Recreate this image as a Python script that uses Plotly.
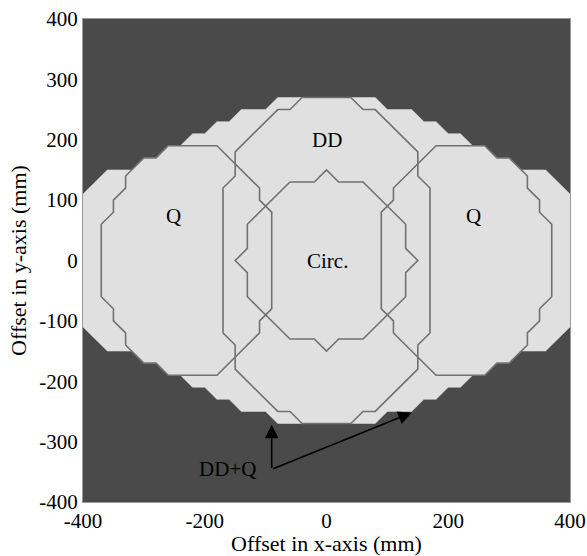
import plotly.graph_objects as go

# Combined DD+Q coverage region (light area)
ddq_x = [-80, 80, 100, 140, 160, 180, 200, 220, 240, 260, 280, 300, 320, 360, 400,
         400, 360, 320, 300, 280, 260, 240, 220, 200, 180, 160, 140, 100, 80,
         -80, -100, -140, -160, -180, -200, -220, -240, -260, -280, -300, -320, -360, -400,
         -400, -360, -320, -300, -280, -260, -240, -220, -200, -180, -160, -140, -100, -80]
ddq_y = [270, 270, 250, 250, 230, 230, 210, 210, 190, 190, 170, 170, 150, 150, 110,
         -110, -150, -150, -170, -170, -190, -190, -210, -210, -230, -230, -250, -250, -270,
         -270, -250, -250, -230, -230, -210, -210, -190, -190, -170, -170, -150, -150, -110,
         110, 150, 150, 170, 170, 190, 190, 210, 210, 230, 230, 250, 250, 270]

# DD pad region outline
dd_x = [-40, 40, 60, 80, 150, 150, 170, 170, 150, 150, 80, 60, 40,
        -40, -60, -80, -150, -150, -170, -170, -150, -150, -80, -60, -40]
dd_y = [270, 270, 250, 250, 180, 140, 120, -120, -140, -180, -250, -250, -270,
        -270, -250, -250, -180, -140, -120, 120, 140, 180, 250, 250, 270]

# Left Q region outline
ql_x = [-260, -180, -110, -110, -90, -90, -110, -110, -180, -260, -280, -300, -320, -330,
        -330, -350, -350, -370, -370, -350, -350, -330, -330, -320, -300, -280, -260]
ql_y = [190, 190, 120, 100, 80, -80, -100, -120, -190, -190, -170, -170, -150, -140,
        -120, -100, -80, -60, 60, 80, 100, 120, 140, 150, 170, 170, 190]

# Right Q region outline
qr_x = [260, 180, 110, 110, 90, 90, 110, 110, 180, 260, 280, 300, 320, 330,
        330, 350, 350, 370, 370, 350, 350, 330, 330, 320, 300, 280, 260]
qr_y = [190, 190, 120, 100, 80, -80, -100, -120, -190, -190, -170, -170, -150, -140,
        -120, -100, -80, -60, 60, 80, 100, 120, 140, 150, 170, 170, 190]

# Circular pad region outline
circ_x = [-60, -20, 0, 20, 60, 130, 130, 150, 130, 130, 60, 20, 0, -20, -60,
          -130, -130, -150, -130, -130, -60]
circ_y = [130, 130, 150, 130, 130, 60, 20, 0, -20, -60, -130, -130, -150, -130, -130,
          -60, -20, 0, 20, 60, 130]

# Labels
label_text = ["DD", "Q", "Q", "Circ."]
label_x = [0, -252, 242, 2]
label_y = [200, 73, 73, 0]

arrow_tail = (-90, -346)
arrow_tips_x = [-90, 140]
arrow_tips_y = [-272, -252]

x_ticks = [-400, -200, 0, 200, 400]
x_ticktext = ["-400", "-200", "0", "200", "400"]
y_ticks = [-400, -300, -200, -100, 0, 100, 200, 300, 400]
y_ticktext = ["-400", "-300", "-200", "-100", "0", "100", "200", "300", "400"]

FONT = "Liberation Serif"
LINE = "#717171"

fig = go.Figure()
fig.add_trace(go.Scatter(x=ddq_x, y=ddq_y, mode="lines", fill="toself",
                         fillcolor="#e0e0e0", line=dict(color="#e0e0e0", width=0.5),
                         hoverinfo="skip", showlegend=False))
for xs, ys in [(dd_x, dd_y), (ql_x, ql_y), (qr_x, qr_y), (circ_x, circ_y)]:
    fig.add_trace(go.Scatter(x=xs, y=ys, mode="lines",
                             line=dict(color=LINE, width=1.6),
                             hoverinfo="skip", showlegend=False))

for t, x, y in zip(label_text, label_x, label_y):
    fig.add_annotation(x=x, y=y, text=t, showarrow=False,
                       font=dict(family=FONT, size=21, color="black"))

for tx, ty in zip(arrow_tips_x, arrow_tips_y):
    fig.add_annotation(x=tx, y=ty, ax=arrow_tail[0], ay=arrow_tail[1],
                       axref="x", ayref="y", xref="x", yref="y", text="",
                       showarrow=True, arrowhead=2, arrowsize=1.7,
                       arrowwidth=1.6, arrowcolor="black")
fig.add_annotation(x=-162, y=-346, text="DD+Q", showarrow=False,
                   font=dict(family=FONT, size=21, color="black"))

tickfont = dict(family=FONT, size=21, color="black")
titlefont = dict(family=FONT, size=22, color="black")

fig.update_layout(
    width=587, height=556,
    margin=dict(l=83, r=17, t=19, b=54),
    paper_bgcolor="white", plot_bgcolor="#4a4a4a",
    font=dict(family=FONT, size=21, color="black"),
    xaxis=dict(range=[-400, 400], tickvals=x_ticks, ticktext=x_ticktext,
               tickfont=tickfont, showgrid=False, zeroline=False,
               showline=True, linecolor="#9a9a9a", linewidth=1, mirror=True,
               ticks="", title=dict(text="Offset in x-axis (mm)", standoff=3, font=titlefont),
               automargin=False),
    yaxis=dict(range=[-400, 400], tickvals=y_ticks, ticktext=y_ticktext,
               tickfont=tickfont, showgrid=False, zeroline=False,
               showline=True, linecolor="#9a9a9a", linewidth=1, mirror=True,
               ticks="", title=dict(text="Offset in y-axis (mm)", standoff=6, font=titlefont),
               automargin=False),
)

fig.write_html("out.html")
